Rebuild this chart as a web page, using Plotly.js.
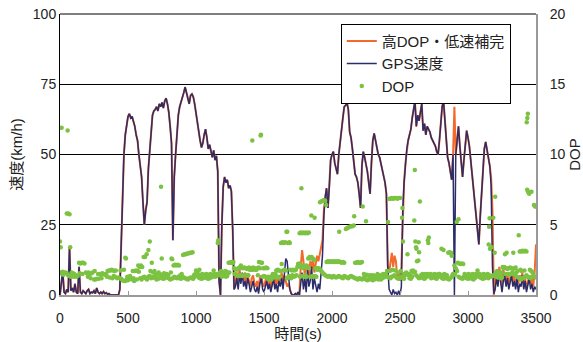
<!DOCTYPE html>
<html>
<head>
<meta charset="utf-8">
<script src="https://cdn.plot.ly/plotly-3.0.1.min.js"></script>
<style>html,body{margin:0;padding:0;background:#fff;}#chart{width:583px;height:342px;}</style>
</head>
<body>
<div id="chart"></div>
<script>
// Sample timing (seconds)
const timeStart = 0;
const timeStep = 10;

// Series names
const seriesNames = ["高DOP・低速補完", "GPS速度", "DOP"];

// GPS speed (km/h), one value every 10 s from 0 to 3500 s
const gpsSpeed = [
  0,4,8.5,1,0.5,2,1,17,1.5,2.5,
  1,4,1,0.5,10,1,0.5,1.5,1,0.5,
  1.5,2,0.5,1,0.8,1.5,0.5,2.5,1,0.5,
  1,0.5,1.2,0.5,0.8,0.3,0.5,0,0,0,
  0,0,0,0,2,20,38,50,57,61,
  63.5,64.5,63,63.5,62,60,57,55,50,46,
  42,33,25,30,33,45,52,59,64,65.5,
  66,67,65.5,68,67,68.5,66.5,69,70,68,
  65,60,54,19.5,42,50,58,64,67,68.5,
  70,72,74,71.5,70,68,71,71.5,70.5,68,
  64.5,61,57.5,55,52.5,54,57,59,56,52,
  53.5,51,49,51.5,48,49.5,44,5,0,25,
  38.5,42,40,41,38,39,37,23,2,3,
  6,2,7,4,8,3,5,2,6,4,
  1,3,5,2,1,3,0.5,4,6,2,
  1,3,5,2,4,1,3,6,2,4,
  1,5,3,6,2,7,13,12,8,2,
  0.5,0,0,0.5,0,1,0,4,8,2,
  6,1,9,3,5,10,2,6,3,1,
  4,2,8,14,28,35,38,31,38,48,
  50,51,47,45,43,50,55,60,63,67,
  67.5,68.5,66,58,56,52,46,43,42,40,
  36,31,46,51,49,47,44,40,36,47,
  55,57.5,55,53,50,49,47,45,43,40,
  36,10,2,1,0,2,0.5,1,0,1.5,
  0,3,30,40,47,52,55,57,59,63,
  66,69,60,64,62,66,68,58.5,61,57,
  60,59,58,56,55,54,53,51,50,55,
  63,67,69,63,56,49,47,44,41,50,
  0,50,56,60,53,47,42,48,55,58.5,
  56,53,48,43,36,31,27,22,18,28,
  36,44,52,54.5,52,49,46,39,10,0.5,
  2,6,3,8,4,1,5,7,3,6,
  2,4,7,3,5,2,6,1,4,3,
  7,2,5,1,3,6,2,4,1,3,
  2
];

// Speed with high-DOP / low-speed completion (km/h), same timing
const fillSpeed = [
  0,4,8.5,1,0.5,2,1,17,1.5,2.5,
  1,4,1,0.5,10,1,0.5,1.5,1,0.5,
  1.5,2,0.5,1,0.8,1.5,0.5,2.5,1,0.5,
  1,0.5,1.2,0.5,0.8,0.3,0.5,0,0,0,
  0,0,0,0,2,20,38,50,57,61,
  63.5,64.5,63,63.5,62,60,57,55,50,46,
  42,33,25,30,33,45,52,59,64,65.5,
  66,67,65.5,68,67,68.5,66.5,69,70,68,
  65,60,54,19.5,42,50,58,64,67,68.5,
  70,72,74,71.5,70,68,71,71.5,70.5,68,
  64.5,61,57.5,55,52.5,54,57,59,56,52,
  53.5,51,49,51.5,48,49.5,44,5,0,25,
  38.5,42,40,41,38,39,37,23,2,4,
  8,5,9,6,7,5,8,4,7,5,
  3,6,7,4,3,5,2,6,7,4,
  3,5,7,3,6,2,5,8,3,6,
  4,7,5,8,4,7,5,3,4,2,
  0.5,0,0,0.5,0,1,0,10,16,12,
  7,10,11,6,12,9,13,8,11,14,
  12,15,17,19.5,30,35,38,31,38,48,
  50,51,47,45,43,50,55,60,63,67,
  67.5,68.5,66,58,56,52,46,43,42,40,
  36,31,46,51,49,47,44,40,36,47,
  55,57.5,55,53,50,49,47,45,43,40,
  36,10,8,12,15,10,14,12,6,8,
  5,10,30,40,47,52,55,57,59,63,
  66,69,60,64,62,66,68,58.5,61,57,
  60,59,58,56,55,54,53,51,50,55,
  63,67,69,63,56,49,47,44,41,50,
  67,50,56,60,53,47,42,48,55,58.5,
  56,53,48,43,36,31,27,22,18,28,
  36,44,52,54.5,52,49,46,42,30,0,
  5,9,4,10,7,3,9,6,4,8,
  3,6,8,5,7,3,6,4,7,5,
  8,3,6,2,5,7,4,6,3,8,
  18
];

// DOP, regular samples every 10 s
const dopRegular = [
  1.6,1.6,1.65,1.6,1.6,1.55,1.4,1.35,1.3,1.35,
  1.3,1.35,1.3,1.35,2.3,2.25,2.3,2.3,2.25,1.6,
  1.55,1.6,1.5,1.55,1.6,1.1,1.1,1.15,1.5,1.5,
  1.45,1.55,1.5,1.45,1.5,1.7,1.75,1.75,1.8,1.75,
  1.7,1.75,1.2,1.25,1.2,1.15,1.05,1.0,1.0,1.1,
  1.05,1.15,1.2,1.1,1.2,1.7,1.75,1.7,1.65,1.2,
  1.1,1.25,1.3,1.2,1.1,1.3,1.35,1.2,1.25,1.3,
  1.2,1.1,1.15,1.2,1.25,1.2,1.15,1.2,1.3,1.25,
  1.2,1.1,1.15,1.2,1.3,1.25,1.2,1.3,1.2,1.15,
  1.3,1.25,1.2,1.15,1.1,1.2,1.25,1.2,1.15,1.3,
  1.75,1.7,1.25,1.2,1.15,1.2,1.25,1.3,1.2,1.15,
  1.2,1.25,1.3,1.75,1.3,1.35,1.4,1.5,1.4,1.3,
  1.35,1.4,1.3,1.35,2.3,2.3,2.35,2.3,1.9,1.85,
  1.8,1.9,1.95,1.4,1.35,1.4,1.45,1.4,1.9,1.95,
  1.9,1.9,1.95,1.9,1.85,1.9,1.95,1.9,2.3,1.3,
  1.35,1.3,1.25,1.3,1.2,1.3,1.35,1.3,1.25,1.75,
  1.8,1.75,1.7,2.2,1.75,1.8,1.75,1.2,1.3,1.35,
  1.2,1.4,1.3,1.35,1.4,2.2,2.25,2.0,2.1,1.9,
  2.0,2.1,2.0,1.9,2.6,2.7,2.6,2.5,1.9,1.8,
  1.9,1.85,1.7,1.6,1.5,1.4,1.35,1.3,1.35,1.3,
  1.25,1.35,1.3,1.25,1.3,1.35,1.3,1.25,1.2,1.35,
  1.3,1.25,1.2,1.3,1.35,1.3,1.25,1.2,1.15,1.1,
  1.2,1.15,1.1,1.2,1.15,1.1,1.05,1.1,1.15,1.1,
  1.05,1.1,1.15,1.2,1.1,1.15,1.1,1.2,1.25,1.3,
  1.35,1.3,1.25,1.2,1.3,1.35,1.4,1.3,1.2,1.15,
  1.25,1.3,1.2,1.15,1.5,1.55,1.4,1.2,1.15,1.3,
  1.6,1.65,1.4,1.3,1.2,1.25,1.3,1.2,1.15,1.25,
  1.5,1.45,1.3,1.2,1.25,1.3,1.2,1.15,1.3,1.5,
  1.3,1.2,1.15,1.2,1.25,1.15,1.1,1.2,1.3,1.5,
  2.1,1.9,1.7,1.3,1.25,1.2,1.15,1.3,1.25,1.2,
  1.15,1.2,1.25,1.15,1.1,1.2,1.5,1.75,1.3,1.25,
  1.2,1.15,1.2,1.25,1.3,1.2,1.4,1.3,1.35,1.4,
  1.35,1.3,1.25,1.3,1.2,1.25,1.9,1.95,1.9,1.85,
  1.9,1.95,1.9,1.85,1.9,1.95,1.3,1.25,1.2,1.1,
  1.2,1.25,1.3,1.4,1.3,1.25,1.2,1.3,1.35,1.3,
  1.25
];

// Additional DOP samples: [time (s), DOP]
const dopExtra = [
  [0,3.8],[5,3.4],[12,11.9],[56,11.7],[50,5.8],[60,5.8],[70,5.75],[75,3.4],[15,1.5],[25,1.45],
  [35,1.55],[85,1.6],[95,1.55],[105,1.5],[115,1.4],[145,1.55],[165,1.5],[205,1.3],[225,1.2],[255,1.7],
  [285,1.15],[305,1.2],[345,1.3],[365,1.25],[385,1.2],[395,1.35],[405,1.3],[445,1.75],[470,1.8],[480,2.65],
  [485,2.6],[495,1.3],[515,1.35],[535,1.7],[545,1.0],[565,1.1],[575,2.1],[585,2.0],[595,2.1],[605,2.0],
  [615,2.7],[625,2.7],[637,2.9],[650,3.2],[660,3.8],[665,1.7],[675,2.3],[685,1.6],[695,1.7],[705,1.4],
  [715,1.5],[725,1.6],[735,1.5],[743,7.7],[748,2.6],[755,1.4],[765,1.55],[785,1.5],[795,1.4],[815,1.6],
  [820,2.6],[825,2.55],[835,2.1],[845,2.15],[855,2.1],[865,2.15],[875,2.1],[885,1.4],[895,1.5],[905,2.85],
  [915,2.9],[925,2.9],[935,2.95],[945,2.95],[955,3.0],[965,3.0],[975,3.05],[985,1.4],[995,1.5],[1005,1.4],
  [1015,1.5],[1025,1.8],[1035,1.4],[1045,1.5],[1055,1.45],[1065,1.4],[1075,1.5],[1085,1.45],[1095,1.4],[1105,1.5],
  [1115,1.4],[1125,1.45],[1135,1.5],[1145,1.4],[1155,1.5],[1160,3.7],[1164,3.9],[1175,1.6],[1185,1.7],[1195,1.55],
  [1205,1.6],[1215,1.7],[1225,1.65],[1235,1.55],[1245,1.6],[1255,2.3],[1265,2.3],[1275,2.35],[1285,1.5],[1295,1.45],
  [1305,1.4],[1315,1.35],[1325,1.9],[1330,2.1],[1345,1.9],[1355,1.95],[1365,1.9],[1375,1.85],[1385,1.4],[1395,1.8],
  [1405,1.8],[1414,11.0],[1415,1.8],[1425,1.85],[1435,1.8],[1445,1.8],[1455,1.4],[1463,2.35],[1475,11.35],[1478,11.4],
  [1485,2.3],[1495,1.9],[1505,1.9],[1515,1.95],[1525,1.9],[1535,1.1],[1545,1.15],[1555,1.1],[1565,1.5],[1575,1.45],
  [1585,1.5],[1595,1.3],[1605,1.25],[1615,1.3],[1625,3.7],[1635,3.75],[1645,3.7],[1655,3.75],[1665,4.5],[1671,4.5],
  [1675,3.7],[1685,3.75],[1690,3.7],[1695,1.8],[1705,1.75],[1715,1.8],[1725,1.75],[1735,1.8],[1745,2.0],[1762,4.4],
  [1770,4.45],[1775,7.6],[1780,4.4],[1790,4.45],[1800,4.4],[1810,4.45],[1820,4.4],[1830,4.45],[1848,5.66],[1765,1.3],
  [1785,1.35],[1795,1.3],[1805,1.4],[1815,1.3],[1825,2.6],[1835,2.7],[1845,1.3],[1855,1.35],[1865,1.3],[1872,5.5],
  [1875,1.35],[1885,1.3],[1895,1.9],[1905,1.8],[1912,6.6],[1920,6.65],[1930,6.7],[1940,6.75],[1950,6.7],[1957,6.4],
  [1960,2.35],[1970,2.4],[1980,2.35],[1990,2.4],[2000,2.35],[2010,2.4],[2020,2.35],[2030,2.4],[2040,2.35],[2050,2.4],
  [2053,4.5],[2060,2.35],[2070,2.3],[2080,2.35],[2090,2.3],[2102,4.7],[2110,4.75],[2120,4.8],[2130,4.85],[2140,4.9],
  [2150,4.9],[2160,4.95],[2163,5.6],[2170,2.3],[2180,2.3],[2190,2.35],[2200,2.3],[2210,2.3],[2220,2.35],[2226,6.3],
  [2250,5.25],[2235,1.5],[2245,1.4],[2255,1.45],[2265,1.4],[2275,1.35],[2285,1.4],[2295,1.35],[2305,1.4],[2315,1.3],
  [2325,1.35],[2335,1.5],[2345,1.4],[2355,1.35],[2365,1.4],[2375,1.5],[2385,1.45],[2395,1.5],[2405,1.7],[2412,5.2],
  [2420,6.85],[2430,6.85],[2440,6.9],[2450,6.85],[2460,6.9],[2470,6.9],[2480,6.85],[2490,6.9],[2500,6.9],[2425,1.7],
  [2445,1.8],[2465,1.75],[2485,1.6],[2505,1.7],[2515,5.5],[2518,6.2],[2522,3.8],[2525,1.5],[2535,1.4],[2545,1.6],
  [2555,2.9],[2565,1.5],[2575,1.4],[2585,1.7],[2595,1.75],[2605,5.3],[2609,8.9],[2613,3.8],[2618,3.4],[2621,3.3],
  [2625,2.4],[2635,2.45],[2637,3.75],[2640,3.05],[2646,6.65],[2655,1.4],[2665,1.5],[2675,1.4],[2685,1.5],[2695,1.45],
  [2705,3.9],[2708,3.7],[2712,4.1],[2715,1.4],[2725,1.5],[2735,1.45],[2745,1.4],[2755,1.5],[2765,1.45],[2775,1.4],
  [2785,1.5],[2795,1.45],[2805,3.3],[2815,1.4],[2820,3.2],[2825,1.5],[2835,1.45],[2845,1.4],[2855,3.0],[2865,3.05],
  [2875,3.0],[2880,2.8],[2885,1.4],[2895,1.45],[2905,1.5],[2917,5.2],[2925,2.3],[2930,5.4],[2935,2.25],[2945,2.2],
  [2955,2.25],[2965,2.2],[2975,1.5],[2985,1.45],[2995,1.4],[3005,1.5],[3015,1.45],[3025,1.4],[3035,1.5],[3045,1.45],
  [3055,1.4],[3065,1.35],[3075,1.4],[3085,1.5],[3095,1.45],[3105,1.4],[3115,1.5],[3125,1.45],[3135,1.4],[3145,1.5],
  [3152,3.6],[3155,4.85],[3159,5.46],[3162,3.3],[3174,3.4],[3186,5.5],[3196,3.0],[3200,7.0],[3205,1.6],[3215,1.7],
  [3225,1.6],[3235,1.5],[3245,1.6],[3255,2.0],[3265,2.0],[3272,2.9],[3275,1.5],[3284,3.0],[3295,1.5],[3305,1.45],
  [3315,1.5],[3325,1.6],[3333,3.0],[3335,1.5],[3345,1.45],[3355,1.6],[3365,1.7],[3373,4.25],[3380,3.1],[3385,1.8],
  [3390,3.1],[3395,1.7],[3400,3.15],[3410,3.1],[3415,1.75],[3420,3.15],[3430,3.1],[3432,12.3],[3436,12.6],[3440,12.9],
  [3435,7.5],[3443,7.35],[3445,7.3],[3450,7.2],[3455,1.8],[3465,1.7],[3467,7.35],[3475,1.6],[3485,6.4],[3490,6.35],
  [3495,6.3],[3500,6.3]
];

// Axis ticks
const xTicks = [0,500,1000,1500,2000,2500,3000,3500];
const speedTicks = [0,25,50,75,100];
const dopTicks = [0,5,10,15,20];

const FONT = 'Liberation Sans, Arial, "Noto Sans CJK JP", sans-serif';
const colFill = '#f26a2e', colGps = '#2b2c6a', colDop = '#7cc242';

const traces = [
  {type:'scatter', mode:'lines', name:seriesNames[0], x0:timeStart, dx:timeStep, y:fillSpeed,
   line:{color:colFill, width:2}, xaxis:'x', yaxis:'y'},
  {type:'scatter', mode:'lines', name:seriesNames[1], x0:timeStart, dx:timeStep, y:gpsSpeed,
   line:{color:colGps, width:1.5}, xaxis:'x', yaxis:'y'},
  {type:'scatter', mode:'markers', name:seriesNames[2], x0:timeStart, dx:timeStep, y:dopRegular,
   marker:{color:colDop, size:4.5}, xaxis:'x', yaxis:'y2', legendgroup:'dop'},
  {type:'scatter', mode:'markers', name:seriesNames[2], x:dopExtra.map(p=>p[0]), y:dopExtra.map(p=>p[1]),
   marker:{color:colDop, size:4.5}, xaxis:'x', yaxis:'y2', legendgroup:'dop', showlegend:false}
];

const layout = {
  width:583, height:342,
  margin:{l:60, r:47, t:14, b:47, pad:0},
  paper_bgcolor:'#fff', plot_bgcolor:'#fff',
  font:{family:FONT, size:14, color:'#222'},
  showlegend:true,
  legend:{x:0.947, xanchor:'right', y:0.965, yanchor:'top', bgcolor:'#fff',
          bordercolor:'#000', borderwidth:1, font:{size:15, family:FONT}, tracegroupgap:0},
  xaxis:{range:[0,3500], tickvals:xTicks, ticktext:xTicks.map(String), ticks:'inside', ticklen:4,
         tickcolor:'#999', showline:true, linecolor:'#999', linewidth:1.5, showgrid:false, zeroline:false,
         ticklabelstandoff:10, tickfont:{size:14}, title:{text:'時間(s)', font:{size:15}, standoff:1}},
  yaxis:{range:[0,100], tickvals:speedTicks, showgrid:true, gridcolor:'#000', gridwidth:1,
         showline:true, linecolor:'#000', linewidth:1, zeroline:false, ticks:'', tickfont:{size:14},
         title:{text:'速度(km/h)', font:{size:15}, standoff:6}},
  yaxis2:{range:[0,20], tickvals:dopTicks, overlaying:'y', side:'right', showgrid:false,
          showline:true, linecolor:'#999', linewidth:2, zeroline:false, ticks:'', tickfont:{size:14},
          ticklabelstandoff:9, title:{text:'DOP', font:{size:15}, standoff:10}},
  shapes:[{type:'line', xref:'paper', yref:'paper', x0:0, x1:1, y0:1, y1:1, line:{color:'#000', width:1}}]
};

Plotly.newPlot('chart', traces, layout, {displayModeBar:false, staticPlot:true});
</script>
</body>
</html>
